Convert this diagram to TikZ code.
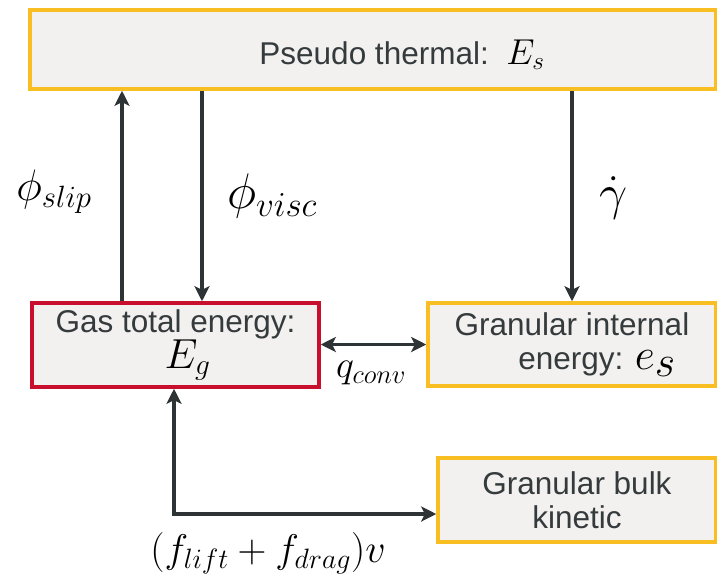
\RequirePackage{fix-cm}
\documentclass[tikz,border=0pt]{standalone}
\usepackage{fontspec}
\newfontfamily\boxfont{Liberation Sans}
\usetikzlibrary{arrows.meta}
\definecolor{ybord}{HTML}{F9BF22}
\definecolor{rbord}{HTML}{C8102E}
\definecolor{bfill}{HTML}{F2F1F0}
\definecolor{ink}{HTML}{2E3436}
\definecolor{txt}{HTML}{353A3C}
\begin{document}
\begin{tikzpicture}[x=1pt,y=-1pt,
  box/.style={draw=ybord,fill=bfill,line width=3.5pt,rectangle,inner sep=0pt,
    align=center,text=txt,font=\boxfont\fontsize{31.5}{34}\selectfont},
  redbox/.style={box,draw=rbord},
  tip/.tip={Stealth[length=15pt,width=15pt,inset=3.5pt]},
  arr/.style={draw=ink,line width=3.3pt,-tip},
  darr/.style={draw=ink,line width=3.3pt,tip-tip},
  lab/.style={text=black,inner sep=0pt}]
\useasboundingbox (0,0) rectangle (717,579);
\node[box,minimum width=686pt,minimum height=79pt,text height=29pt,text depth=0pt] (top) at (373,49.5)
  {\hspace*{58pt}Pseudo thermal:\ \ {\fontsize{36}{30}\selectfont\color{black}$E_s$}};
\node[redbox,minimum width=287pt,minimum height=84pt] (gas) at (175.5,345)
  {Gas total energy:\\\hspace*{24pt}{\fontsize{42}{34}\selectfont\color{black}$E_g$}};
\node[box,minimum width=288pt,minimum height=83pt] (gin) at (572,344.5)
  {Granular internal\\\hspace*{50pt}energy: {\fontsize{44}{34}\selectfont\color{black}$e_{\textstyle s}$}};
\node[box,minimum width=278pt,minimum height=84pt] (gbk) at (577,500)
  {Granular bulk\\kinetic};
\coordinate (cslip) at (122,0);
\coordinate (cvisc) at (202,0);
\coordinate (elb) at (174,514);
\draw[arr] (gas.north -| cslip) -- (top.south -| cslip);
\draw[arr] (top.south -| cvisc) -- (gas.north -| cvisc);
\draw[arr] (top.south -| gin.north) -- (gin.north);
\draw[darr] (gas.east |- gin.west) -- (gin.west);
\draw[darr] (gas.south -| elb) -- (elb) -- (elb -| gbk.west);
\node[lab,font=\fontsize{44}{50}\selectfont] (ls) at (54,192) {$\phi_{slip}$};
\node[lab,font=\fontsize{50}{56}\selectfont] (lv) at (272,196) {$\phi_{visc}$};
\node[lab,font=\fontsize{50}{56}\selectfont] (lg) at (614,198) {$\dot\gamma$};
\node[lab,font=\fontsize{38}{44}\selectfont] (lq) at (371,373) {$q_{conv}$};
\node[lab,font=\fontsize{40}{46}\selectfont] (lf) at (268,553) {$(f_{lift}+f_{drag})v$};
\end{tikzpicture}
\end{document}
